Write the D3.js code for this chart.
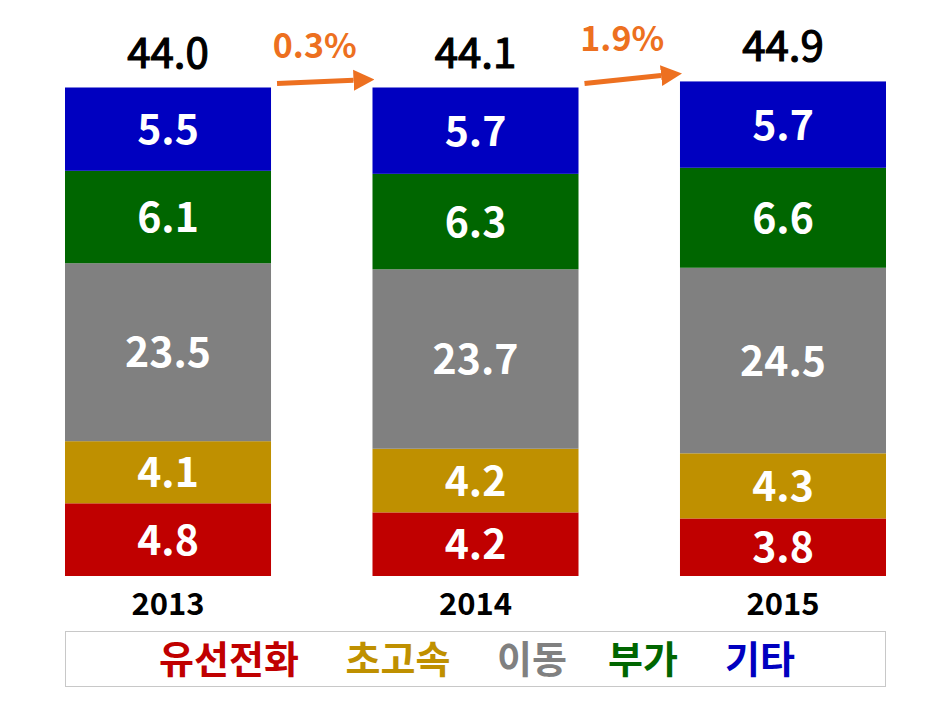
<!DOCTYPE html>
<html><head><meta charset="utf-8">
<script src="https://cdn.jsdelivr.net/npm/d3@7"></script>
<style>
html,body{margin:0;padding:0;background:#fff;}
text{font-family:"Noto Sans CJK KR","Noto Sans",sans-serif;}
</style></head>
<body>
<svg id="chart" width="952" height="704"></svg>
<script>
const years = ["2013", "2014", "2015"];
const seriesNames = ["유선전화", "초고속", "이동", "부가", "기타"];
const wired = [4.8, 4.2, 3.8];
const broadband = [4.1, 4.2, 4.3];
const mobile = [23.5, 23.7, 24.5];
const addon = [6.1, 6.3, 6.6];
const other = [5.5, 5.7, 5.7];
const totals = [44.0, 44.1, 44.9];
const growthLabels = ["0.3%", "1.9%"];
const colors = ["#c00000", "#bf9000", "#808080", "#006600", "#0000c0"];
// 이동 segment is drawn on a compressed (broken) scale in the original
const displayWeight = [1, 1, 0.5, 1, 1];

const seriesValues = [wired, broadband, mobile, addon, other];
const svg = d3.select("#chart");

const x = d3.scaleBand().domain(years).range([65, 886]).paddingInner(0.33).paddingOuter(0);
const rows = years.map((yr, i) => {
  const r = {year: yr};
  seriesNames.forEach((s, k) => r[s] = seriesValues[k][i] * displayWeight[k]);
  return r;
});
const stack = d3.stack().keys(seriesNames)(rows);
const y = d3.scaleLinear().domain([0, 32.25]).range([576, 87.5]);

const layers = svg.selectAll("g.layer").data(stack).enter().append("g")
  .attr("fill", (d, k) => colors[k]);
layers.selectAll("rect").data(d => d).enter().append("rect")
  .attr("x", d => x(d.data.year))
  .attr("width", x.bandwidth())
  .attr("y", d => y(d[1]))
  .attr("height", d => y(d[0]) - y(d[1]));

stack.forEach((layer, k) => {
  layer.forEach((d, i) => {
    svg.append("text")
      .attr("x", x(years[i]) + x.bandwidth() / 2)
      .attr("y", (y(d[0]) + y(d[1])) / 2 + 15)
      .attr("text-anchor", "middle")
      .attr("fill", "#fff")
      .attr("font-weight", "bold")
      .attr("font-size", 41)
      .text(seriesValues[k][i].toFixed(1));
  });
});

// totals
const topStack = stack[stack.length - 1];
years.forEach((yr, i) => {
  svg.append("text")
    .attr("x", x(yr) + x.bandwidth() / 2)
    .attr("y", y(topStack[i][1]) - 20)
    .attr("text-anchor", "middle")
    .attr("fill", "#000")
    .attr("stroke", "#000")
    .attr("stroke-width", 1.2)
    .attr("font-size", 42)
    .text(totals[i].toFixed(1));
  svg.append("text")
    .attr("x", x(yr) + x.bandwidth() / 2)
    .attr("y", 615)
    .attr("text-anchor", "middle")
    .attr("fill", "#000")
    .attr("font-weight", "bold")
    .attr("font-size", 31)
    .text(yr);
});

// growth arrows
const orange = "#ed7020";
const defs = svg.append("defs");
defs.append("marker").attr("id", "ah").attr("viewBox", "0 0 10 10")
  .attr("refX", 0).attr("refY", 5).attr("markerWidth", 4.2).attr("markerHeight", 5)
  .attr("markerUnits", "strokeWidth").attr("orient", "auto")
  .append("path").attr("d", "M0,0 L10,5 L0,10 z").attr("fill", orange);
for (let i = 0; i < years.length - 1; i++) {
  const x0 = x(years[i]) + x.bandwidth() + 6;
  const x1 = x(years[i + 1]) + 2;
  const y0 = y(topStack[i][1]) - 4;
  const y1 = y(topStack[i + 1][1]) - 8;
  const ang = Math.atan2(y1 - y0, x1 - x0);
  const headLen = 21;
  svg.append("line")
    .attr("x1", x0).attr("y1", y0)
    .attr("x2", x1 - headLen * Math.cos(ang)).attr("y2", y1 - headLen * Math.sin(ang))
    .attr("stroke", orange).attr("stroke-width", 5)
    .attr("marker-end", "url(#ah)");
  svg.append("text")
    .attr("x", (x0 + x1) / 2 - 11)
    .attr("y", Math.min(y0, y1) - 22)
    .attr("text-anchor", "middle")
    .attr("fill", orange)
    .attr("font-weight", "bold")
    .attr("font-size", 34)
    .text(growthLabels[i]);
}

// legend
svg.append("rect").attr("x", 65.5).attr("y", 631.5).attr("width", 820).attr("height", 55)
  .attr("fill", "#fff").attr("stroke", "#c8c8c8").attr("stroke-width", 1);
const legendX = [229, 398, 532, 643, 760];
seriesNames.forEach((s, k) => {
  svg.append("text")
    .attr("x", legendX[k]).attr("y", 673)
    .attr("text-anchor", "middle")
    .attr("fill", colors[k])
    .attr("font-weight", "bold")
    .attr("font-size", 38)
    .text(s);
});
</script>
</body></html>
